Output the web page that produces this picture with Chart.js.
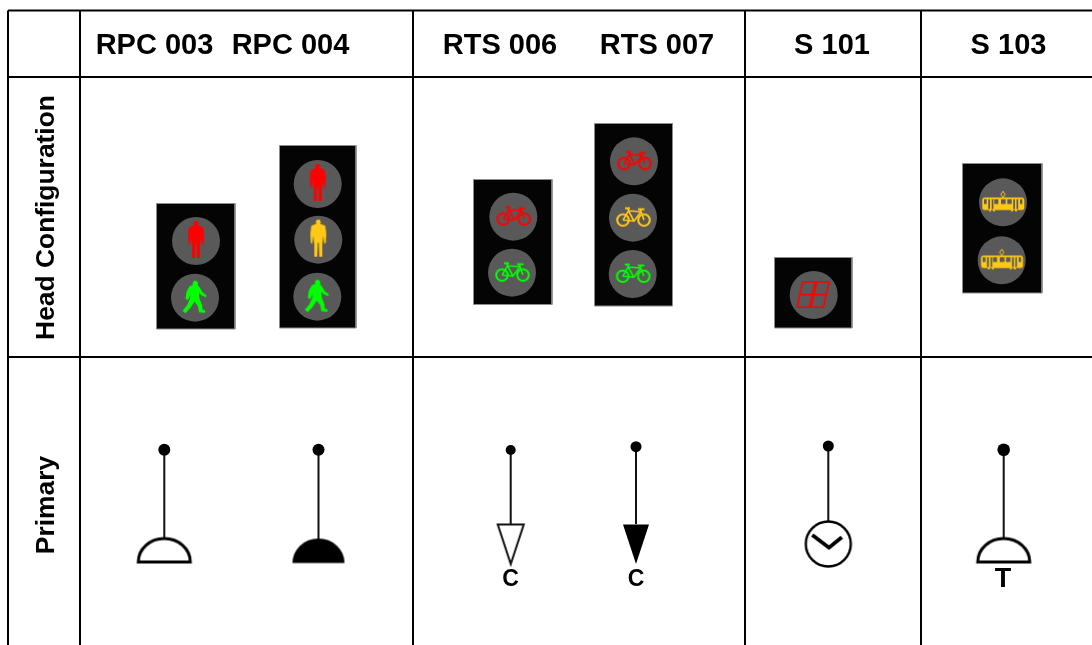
<!DOCTYPE html>
<html>
<head>
<meta charset="utf-8">
<title>Signal head configurations</title>
<script src="https://cdn.jsdelivr.net/npm/chart.js@4/dist/chart.umd.min.js"></script>
<style>
  html, body { margin: 0; padding: 0; background: #fff; overflow: hidden; }
  canvas { display: block; }
</style>
</head>
<body>
<canvas id="signalChart" width="1092" height="645"></canvas>
<script>
// table text
const columnLabels = ['RPC 003', 'RPC 004', 'RTS 006', 'RTS 007', 'S 101', 'S 103'];
const columnX = [154.5, 290.5, 500, 657, 832, 1008.5];
const rowLabels = ['Head Configuration', 'Primary'];
const rowY = [217.5, 505];

// table rules
const ruleX = [8, 80, 413, 745, 921];
const ruleY = [10.5, 77, 357];

// signal housings, one per column
const housingLeft = [156.5, 279.5, 473.5, 594.5, 774.5, 962.5];
const housingRight = [235, 356, 552, 672.5, 852, 1042];
const housingTop = [203.5, 145.5, 179.5, 123.5, 257.5, 163.5];
const housingBottom = [329, 328, 304.5, 306, 328, 293];

// lenses and what each one shows
const lensX = [196, 195, 317.7, 318.3, 317.3, 513.3, 512, 634, 633, 632.7, 813.7, 1003, 1001.7];
const lensY = [241, 297.7, 184, 239.7, 296.7, 216.7, 272.7, 161.3, 217.7, 274, 295, 202.3, 260.3];
const lensGlyph = ['manRed', 'walkGreen', 'manRed', 'manAmber', 'walkGreen', 'bikeRed', 'bikeGreen',
  'bikeRed', 'bikeAmber', 'bikeGreen', 'digits', 'tram', 'tram'];

// primary symbols: post with a ball on top, and a symbol at its foot
const postX = [164.3, 318.5, 510.7, 636, 828.3, 1003.7];
const postTop = [449.7, 449.7, 450, 446.7, 446, 449.7];
const postFoot = [540, 540, 525, 524, 522, 540];
const ballRadius = [6, 6, 5, 5.5, 5.5, 6.3];
const footY = [549.5, 550.5, 544, 544, 544, 549.5];
const footGlyph = ['domeOpen', 'domeFull', 'arrowOpen', 'arrowFull', 'clock', 'domeOpen'];

// letters under the symbols
const noteLabels = ['C', 'C', 'T'];
const noteX = [510.5, 636, 1003];
const noteY = [585.5, 586, 586.5];
const noteSize = [23, 23, 27];

const RED = '#ff0000';
const AMBER = '#ffc814';
const GREEN = '#00ff00';
const FONT = '"Liberation Sans", Arial, sans-serif';

function glyphCanvas(draw) {
    const c = document.createElement('canvas');
    c.width = 64;
    c.height = 64;
    const g = c.getContext('2d');
    g.translate(32, 32);
    g.lineJoin = 'round';
    draw(g);
    return c;
}

function polygon(g, pts) {
    g.beginPath();
    pts.forEach((p, i) => (i ? g.lineTo(p[0], p[1]) : g.moveTo(p[0], p[1])));
    g.closePath();
}

function drawMan(color) {
    return g => {
        g.fillStyle = color;
        g.beginPath();
        g.arc(0, -17.8, 2.4, 0, Math.PI * 2);
        g.fill();
        polygon(g, [[-2, -16], [2, -16], [7, -14], [8, -6], [7.5, 3], [6, 4], [5, -4], [4, 5], [4, 17],
            [1, 17], [0.5, 3], [-0.5, 3], [-1, 17], [-4, 17], [-4, 5], [-5, -4], [-6, 4], [-7.5, 3], [-8, -6], [-7, -14]]);
        g.fill();
    };
}

function drawWalker(color) {
    return g => {
        g.fillStyle = color;
        g.beginPath();
        g.arc(0.3, -14.5, 2.6, 0, Math.PI * 2);
        g.fill();
        polygon(g, [[-2, -13], [2.5, -13], [4.5, -10.5], [7.5, -5.5], [11.5, -2.5], [11, -0.5], [6.5, -2.5], [4, -5], [4.5, 1], [7, 7],
            [7.5, 11.5], [10.5, 13], [10, 15], [4, 14.5], [3, 8.5], [-0.5, 4], [-4.5, 10], [-9.5, 15.5], [-12.5, 13], [-8, 7.5],
            [-5, 1], [-4.5, -3], [-7, 2.5], [-9.5, 1], [-8.5, -6], [-5.5, -11.5]]);
        g.fill();
    };
}

function drawBike(color) {
    return g => {
        g.strokeStyle = color;
        g.lineWidth = 2;
        g.beginPath();
        g.arc(-10, 2.3, 5.8, 0, Math.PI * 2);
        g.moveTo(16.8, 2.3);
        g.arc(11, 2.3, 5.8, 0, Math.PI * 2);
        g.stroke();
        g.lineWidth = 1.6;
        g.beginPath();
        g.moveTo(-10, 2.3); g.lineTo(-4.5, -7); g.lineTo(8, -6); g.lineTo(1, 3.3); g.lineTo(-4.5, -7);
        g.moveTo(-10, 2.3); g.lineTo(1, 3.3);
        g.moveTo(8, -6); g.lineTo(11, 2.3);
        g.moveTo(8, -6); g.lineTo(7.5, -8.5);
        g.moveTo(-4.5, -7); g.lineTo(-5, -9.5);
        g.stroke();
        g.lineWidth = 1.9;
        g.beginPath();
        g.moveTo(-8, -9.5); g.lineTo(-3, -9.5);
        g.moveTo(5, -8.5); g.lineTo(11.5, -8.5);
        g.stroke();
    };
}

function drawTram(g) {
    g.fillStyle = AMBER;
    g.beginPath();
    g.roundRect(-20.7, -4.7, 42, 12.4, 2.5);
    g.fill();
    // wheels
    [-13, -9, 9, 13].forEach(x => g.fillRect(x - 1, 7.5, 2, 1.6));
    // pantograph
    g.strokeStyle = AMBER;
    g.lineWidth = 1;
    polygon(g, [[0, -11], [2.2, -7.7], [0, -5], [-2.2, -7.7]]);
    g.stroke();
    // windows and doors
    g.fillStyle = '#595959';
    [[-19, 2.7], [-8.7, 4], [-2, 4.7], [4.3, 4.4], [17, 2.3]].forEach(w => g.fillRect(w[0], -3, w[1], 4.7));
    [[-14.7, 1.7], [-11.3, 1.7], [10.3, 1.7], [13.5, 1.7]].forEach(d => g.fillRect(d[0], -3, d[1], 9.7));
}

function drawDigits(g) {
    g.strokeStyle = RED;
    g.lineWidth = 1.6;
    g.lineJoin = 'miter';
    [-6, 8].forEach(shift => {
        const l = shift - 5.5;
        const r = shift + 6.8;
        polygon(g, [[l + 0.5, -13], [r + 0.5, -13], [r - 5.3, 12.3], [l - 5.3, 12.3]]);
        g.stroke();
        g.beginPath();
        g.moveTo(l - 2.4, -0.3);
        g.lineTo(r - 2.4, -0.3);
        g.stroke();
    });
}

function drawDome(filled) {
    return g => {
        g.strokeStyle = '#000';
        g.fillStyle = '#000';
        g.beginPath();
        g.ellipse(0, 12.5, 26, filled ? 24.5 : 23.5, 0, Math.PI, 0);
        g.closePath();
        if (filled) {
            g.fill();
        } else {
            g.lineWidth = 3;
            g.lineJoin = 'miter';
            g.fillStyle = '#fff';
            g.fill();
            g.stroke();
        }
    };
}

function drawArrow(filled) {
    return g => {
        polygon(g, [[-13, -19.5], [13, -19.5], [0, 20]]);
        if (filled) {
            g.fillStyle = '#000';
            g.fill();
        } else {
            g.lineWidth = 2;
            g.lineJoin = 'miter';
            g.strokeStyle = '#111';
            g.fillStyle = '#fff';
            g.fill();
            g.stroke();
        }
    };
}

function drawClock(g) {
    g.strokeStyle = '#000';
    g.lineWidth = 2.4;
    g.fillStyle = '#fff';
    g.beginPath();
    g.arc(0, 0, 22.5, 0, Math.PI * 2);
    g.fill();
    g.stroke();
    g.lineWidth = 3.8;
    g.lineJoin = 'miter';
    g.beginPath();
    g.moveTo(-16, -9);
    g.lineTo(0.7, 3.7);
    g.lineTo(13.5, -6.7);
    g.stroke();
}

const glyphs = {
    manRed: glyphCanvas(drawMan(RED)),
    manAmber: glyphCanvas(drawMan(AMBER)),
    walkGreen: glyphCanvas(drawWalker(GREEN)),
    bikeRed: glyphCanvas(drawBike(RED)),
    bikeAmber: glyphCanvas(drawBike(AMBER)),
    bikeGreen: glyphCanvas(drawBike(GREEN)),
    tram: glyphCanvas(drawTram),
    digits: glyphCanvas(drawDigits),
    domeOpen: glyphCanvas(drawDome(false)),
    domeFull: glyphCanvas(drawDome(true)),
    arrowOpen: glyphCanvas(drawArrow(false)),
    arrowFull: glyphCanvas(drawArrow(true)),
    clock: glyphCanvas(drawClock)
};

const baseLine = { pointRadius: 0, fill: false, tension: 0 };

// table rules run off the bottom and right of the page
const ruleSets = ruleX.map(x => ({
    ...baseLine,
    data: [{ x: x, y: ruleY[0] }, { x: x, y: 645 }],
    borderColor: '#000',
    borderWidth: 2,
    order: 9
})).concat(ruleY.map(y => ({
    ...baseLine,
    data: [{ x: ruleX[0], y: y }, { x: 1092, y: y }],
    borderColor: '#000',
    borderWidth: 2,
    order: 9
})));

const housingSets = housingLeft.map((left, i) => ({
    ...baseLine,
    data: [
        { x: left, y: housingTop[i] },
        { x: housingRight[i], y: housingTop[i] },
        { x: housingRight[i], y: housingBottom[i] },
        { x: left, y: housingBottom[i] },
        { x: left, y: housingTop[i] }
    ],
    borderColor: '#8c8c8c',
    borderWidth: 1,
    backgroundColor: '#040404',
    fill: 'shape',
    order: 8
}));

const stemSets = postX.map((x, i) => ({
    ...baseLine,
    data: [{ x: x, y: postTop[i] }, { x: x, y: postFoot[i] }],
    borderColor: '#111',
    borderWidth: 2,
    order: 8
}));

const pointsOf = (xs, ys) => xs.map((x, i) => ({ x: x, y: ys[i] }));

const markSets = [
    {
        data: pointsOf(lensX, lensY),
        showLine: false,
        pointStyle: 'circle',
        pointRadius: 24,
        pointBorderWidth: 0,
        pointBackgroundColor: '#595959',
        order: 7
    },
    {
        data: pointsOf(lensX, lensY),
        showLine: false,
        pointRadius: 10,
        pointStyle: ctx => glyphs[lensGlyph[ctx.dataIndex]],
        order: 6
    },
    {
        data: pointsOf(postX, postTop),
        showLine: false,
        pointStyle: 'circle',
        pointRadius: ballRadius,
        pointBorderWidth: 0,
        pointBackgroundColor: '#000',
        order: 6
    },
    {
        data: pointsOf(postX, footY),
        showLine: false,
        pointRadius: 10,
        pointStyle: ctx => glyphs[footGlyph[ctx.dataIndex]],
        order: 5
    }
];

// header, row names and the small letters are plain canvas text
const tableText = {
    id: 'tableText',
    afterDatasetsDraw(chart) {
        const { ctx, scales } = chart;
        ctx.save();
        ctx.fillStyle = '#000';
        ctx.textAlign = 'center';
        ctx.textBaseline = 'alphabetic';

        ctx.font = 'bold 29px ' + FONT;
        columnLabels.forEach((label, i) => {
            ctx.fillText(label, scales.x.getPixelForValue(columnX[i]), scales.y.getPixelForValue(54));
        });

        ctx.font = 'bold 26.4px ' + FONT;
        rowLabels.forEach((label, i) => {
            ctx.save();
            ctx.translate(scales.x.getPixelForValue(54), scales.y.getPixelForValue(rowY[i]));
            ctx.rotate(-Math.PI / 2);
            ctx.fillText(label, 0, 0);
            ctx.restore();
        });

        noteLabels.forEach((label, i) => {
            ctx.font = 'bold ' + noteSize[i] + 'px ' + FONT;
            ctx.fillText(label, scales.x.getPixelForValue(noteX[i]), scales.y.getPixelForValue(noteY[i]));
        });
        ctx.restore();
    }
};

new Chart(document.getElementById('signalChart').getContext('2d'), {
    type: 'line',
    data: { datasets: [...ruleSets, ...housingSets, ...stemSets, ...markSets] },
    options: {
        responsive: false,
        animation: false,
        events: [],
        layout: { padding: 0, autoPadding: false },
        scales: {
            x: { type: 'linear', min: 0, max: 1092, display: false },
            y: { type: 'linear', min: 0, max: 645, reverse: true, display: false }
        },
        plugins: {
            legend: { display: false },
            tooltip: { enabled: false }
        }
    },
    plugins: [tableText]
});
</script>
</body>
</html>
